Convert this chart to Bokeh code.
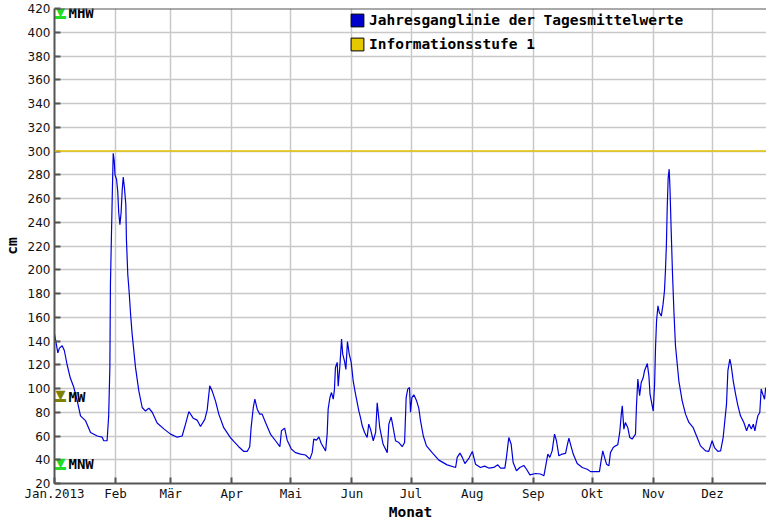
from bokeh.plotting import figure
from bokeh.models import (Range1d, FixedTicker, Span, Legend, LegendItem,
                          ColumnDataSource)
from bokeh.core.properties import value
from bokeh.embed import file_html
from bokeh.resources import INLINE

# ---- data ----
days = [0, 1.7, 2.5, 3.9, 5, 6.4, 8, 9.8, 11.5, 13.2, 15.7, 18.3, 21.7, 24.2, 25, 26.7,
        27.5, 28.1, 28.4, 29.3, 29.8, 30.3, 30.7, 31.5, 32.1, 32.6, 33.2, 33.8, 34.4, 34.9,
        35.5, 36.2, 36.5, 37.2, 37.9, 38.6, 39.4, 41.1, 42.8, 44.5, 46.2, 47.9, 49.6, 52.1,
        55.5, 58.9, 62.3, 64.8, 66.5, 68.2, 70.4, 72.4, 74.1, 76.3, 77.5, 78.8, 80, 81.7,
        83.4, 85.9, 89.3, 91, 93.5, 96.1, 97.8, 99.1, 99.8, 100.9, 101.7, 102.9, 104.2,
        105.4, 107.1, 109.6, 112.2, 114.4, 115.2, 116.8, 118.1, 120.2, 122.3, 124.9, 127.4,
        129.6, 130.8, 131.6, 133, 134.2, 135.4, 137.6, 138.4, 138.9, 139.8, 140.6, 141.5,
        142.1, 142.6, 143.5, 144, 144.8, 145.7, 146.3, 147.2, 147.9, 148.7, 149.6, 150.6,
        151.6, 152.8, 154.5, 155.3, 156.2, 157.4, 158.7, 159.5, 160.4, 161.8, 163, 163.8,
        164.3, 165.1, 166.8, 168.9, 169.7, 170.9, 171.9, 173.1, 174.8, 176.5, 177.7, 178.5,
        179.3, 180.2, 180.7, 181.4, 182.4, 183.8, 184.9, 185.8, 187.2, 188.8, 191.7, 195.1,
        199.3, 203.6, 204.4, 205.8, 207, 208.3, 210.4, 212.1, 213.7, 216.2, 218.3, 220.4,
        223, 225, 226.4, 228.6, 229.4, 230.6, 231.8, 232.8, 234.5, 236.2, 238.2, 239.6,
        241.3, 244.2, 246.7, 248.4, 249.2, 250.4, 251.4, 252.6, 253.8, 254.8, 256, 257.7,
        259.4, 260.2, 261.1, 261.9, 263.3, 265.3, 267.9, 270.4, 272.1, 274.6, 276.6, 277.5,
        278.3, 279.2, 280.2, 281.4, 282.2, 283.6, 284.8, 285.9, 286.9, 287.7, 288.2, 289,
        289.8, 291, 292, 293.2, 294.9, 295.4, 296.1, 297, 297.8, 298.8, 299.5, 300.9, 301.7,
        302.3, 303.9, 304.6, 305.1, 305.6, 306.3, 307, 308, 308.9, 309.6, 310.1, 310.6, 311,
        311.5, 312, 312.4, 313, 313.7, 314.4, 315.2, 316.9, 318.6, 320.3, 322, 324.2, 325.9,
        327.9, 330.5, 332.1, 333.8, 335, 336.7, 338.1, 339.4, 341.1, 341.8, 342.8, 343.5,
        344.5, 345.7, 346.9, 348.2, 349.9, 351.3, 352.5, 353.7, 354.7, 355.5, 356.3, 357,
        358, 358.7, 359.5, 360.4, 361]
levels = [146, 130, 134, 136, 132, 120, 109, 101, 90, 77, 73, 63, 60, 59, 56, 56,
          77, 118, 188, 261, 298, 292, 280, 276, 266, 248, 238, 248, 268, 278,
          269, 255, 226, 196, 181, 163, 146, 118, 98, 84, 81, 83.5, 80, 71,
          66, 61.6, 59, 60, 70, 80.6, 75, 73.4, 68, 74, 82, 102.3, 98, 89.6,
          78.4, 67, 58.7, 55.4, 51, 47, 47, 51, 67, 84, 91, 82.6, 78.4,
          78.4, 71.4, 61.6, 56, 51, 64.4, 66.6, 56.5, 49, 46, 44.8, 44,
          40.5, 46, 57.4, 56.5, 59.3, 53.7, 47.5, 61.6, 82.6, 92.4, 96.6, 91,
          99.5, 117.7, 122, 102, 117.7, 141.6, 129, 123, 116, 139.6, 129, 122,
          106.5, 95.3, 81, 75.6, 68.6, 63, 58.7, 70, 65.8, 56, 63, 88,
          80, 67, 53, 46, 70, 76, 67, 56, 54.5, 51, 54.5, 92.4,
          99.5, 100.8, 80, 92.4, 94.7, 89.6, 83.5, 72.8, 60, 51.7, 46, 39.7,
          35.7, 33.5, 42, 45.6, 42, 36.8, 41.4, 47, 36.3, 33.5, 34.6, 33,
          33.5, 35.7, 33, 33, 42, 58.7, 53, 37.7, 30.7, 33.5, 35.2, 32,
          27.3, 28.4, 28, 26.5, 33.5, 44.8, 42, 47.5, 61.6, 56, 43.3, 44.8,
          45.3, 51.7, 58.2, 53.2, 44.8, 36.8, 33.5, 32, 30, 30, 30, 39.7,
          47.5, 42, 36.3, 35, 46, 50.3, 51.7, 52.6, 63, 78.4, 85.4, 65.8,
          71.4, 67, 58.7, 57.4, 61.6, 85.4, 108, 94, 105, 109, 115, 121, 110.7,
          95, 81, 103.7, 136, 157, 169.6, 164, 161, 171, 182, 199, 221.5, 252,
          277.6, 284.7, 269, 234, 196, 165, 136, 106.5, 89.6, 78.4, 71.4, 67, 60,
          51.7, 47.5, 47, 56, 50.3, 47, 47.5, 58.7, 86.8, 115, 124.7, 119,
          106.5, 95.3, 85.4, 77, 71.4, 64.4, 70, 65.8, 70, 64.4, 71.4, 77,
          79.8, 99.5, 95.3, 91, 100.8]

month_starts = [0, 31, 59, 90, 120, 151, 181, 212, 243, 273, 304, 334]
month_labels = ["Jan.2013", "Feb", "Mär", "Apr", "Mai", "Jun", "Jul", "Aug",
                "Sep", "Okt", "Nov", "Dez"]
y_ticks = list(range(20, 421, 20))
info_level = 300
mark_names = ["MHW", "MW", "MNW"]
mark_values = [417, 94, 37]
mark_colors = ["#22dd22", "#808000", "#22dd22"]
series_label = "Jahresganglinie der Tagesmittelwerte"
info_label = "Informationsstufe 1"
x_title = "Monat"
y_title = "cm"

MONO = "DejaVu Sans Mono"

p = figure(width=766, height=522, output_backend="svg", toolbar_location=None,
           x_range=Range1d(0, 361.4), y_range=Range1d(y_ticks[0], y_ticks[-1]),
           min_border_left=54, min_border_right=0, min_border_top=8,
           min_border_bottom=39)
p.outline_line_color = None
p.background_fill_color = "white"
p.border_fill_color = "white"

xt = FixedTicker(ticks=month_starts, minor_ticks=[])
yt = FixedTicker(ticks=y_ticks, minor_ticks=[])
p.xaxis.ticker = xt
p.yaxis.ticker = yt
p.xgrid.ticker = xt
p.ygrid.ticker = yt
p.xaxis.major_label_overrides = {m: l for m, l in zip(month_starts, month_labels)}

for ax in (p.xaxis, p.yaxis):
    ax.axis_line_color = "#555555"
    ax.axis_line_width = 2
    ax.major_tick_line_color = "#555555"
    ax.major_tick_line_width = 2
    ax.major_tick_in = 6
    ax.major_tick_out = 0
    ax.minor_tick_line_color = None
    ax.major_label_text_color = "#111111"
    ax.axis_label_text_font = MONO
    ax.axis_label_text_font_style = "bold"
    ax.axis_label_text_font_size = "14.5px"
    ax.axis_label_text_color = "#000000"

p.xaxis.major_label_standoff = 2
p.yaxis.major_label_standoff = 4
p.xaxis.axis_label = x_title
p.yaxis.axis_label = y_title
p.xaxis.axis_label_standoff = 0
p.yaxis.axis_label_standoff = 5

p.xaxis.major_label_text_font = MONO
p.xaxis.major_label_text_font_size = "12.5px"
p.yaxis.major_label_text_font = "DejaVu Sans"
p.yaxis.major_label_text_font_size = "12px"

for g in (p.xgrid, p.ygrid):
    g.grid_line_color = "#c8c8c8"
    g.grid_line_width = 1.5

# top frame line
p.add_layout(Span(location=y_ticks[-1], dimension="width",
                  line_color="#555555", line_width=2))

# information level line
p.add_layout(Span(location=info_level, dimension="width",
                  line_color="#e6c300", line_width=1.5))

# main series
p.line(days, levels, line_color="#0000dd", line_width=1.2)

# level markers (MHW / MW / MNW)
msrc = ColumnDataSource(dict(x=[month_starts[0]] * len(mark_values), y=mark_values,
                             name=mark_names, color=mark_colors,
                             tri=["\u25bc"] * len(mark_values),
                             bar=["\u2501"] * len(mark_values)))
p.text(x="x", y="y", text="tri", source=msrc, text_color="color",
       text_font=value("DejaVu Sans"), text_font_size="13px",
       text_align="center", text_baseline="middle", x_offset=6, y_offset=-1)
p.text(x="x", y="y", text="bar", source=msrc, text_color="color",
       text_font=value(MONO), text_font_size="18px",
       text_align="center", text_baseline="middle", x_offset=6, y_offset=5)
p.text(x="x", y="y", text="name", source=msrc, text_color="#000000",
       text_font=value(MONO), text_font_style="bold", text_font_size="14px",
       text_align="left", text_baseline="middle", x_offset=14, y_offset=1)

# legend with square swatches (one invisible NaN row so the swatch is drawn)
nan = float("nan")
swatch_src = ColumnDataSource(dict(left=[nan], right=[nan], top=[nan], bottom=[nan]))
r_blue = p.quad(left="left", right="right", top="top", bottom="bottom",
                source=swatch_src, fill_color="#0000cc", line_color="#000000",
                line_width=1)
r_yel = p.quad(left="left", right="right", top="top", bottom="bottom",
               source=swatch_src, fill_color="#e6c800", line_color="#000000",
               line_width=1)
legend = Legend(items=[LegendItem(label=series_label, renderers=[r_blue]),
                       LegendItem(label=info_label, renderers=[r_yel])],
                location=(295, 431), orientation="vertical",
                glyph_width=16, glyph_height=16, label_height=16,
                label_standoff=4, spacing=8, padding=0, margin=0,
                border_line_alpha=0, background_fill_alpha=0,
                label_text_font=MONO, label_text_font_style="bold",
                label_text_font_size="14.5px", label_text_color="#000000")
p.add_layout(legend)

open("out.html", "w").write(file_html(p, INLINE))
